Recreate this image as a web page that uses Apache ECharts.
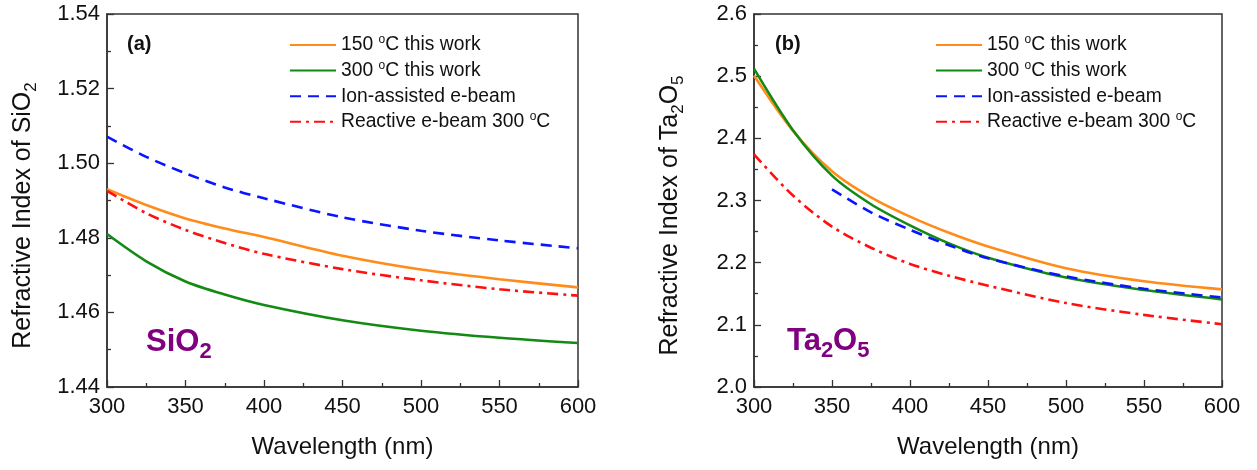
<!DOCTYPE html>
<html>
<head>
<meta charset="utf-8">
<script src="https://cdn.jsdelivr.net/npm/echarts@6/dist/echarts.min.js"></script>
<style>
html,body{margin:0;padding:0;background:#fff;}
#c{width:1257px;height:470px;}
</style>
</head>
<body>
<div id="c"></div>
<script>
// ---- data ----
var seriesNames = ['150 °C this work', '300 °C this work', 'Ion-assisted e-beam', 'Reactive e-beam 300 °C'];

var wlSiO2 = [300, 325, 350, 375, 400, 450, 500, 550, 600];
var sio2_150 = [1.4930, 1.4888, 1.4852, 1.4825, 1.4802, 1.4752, 1.4715, 1.4689, 1.4667];
var sio2_300 = [1.4810, 1.4737, 1.4683, 1.4648, 1.4620, 1.4579, 1.4551, 1.4532, 1.4518];
var sio2_ion = [1.5071, 1.5017, 1.4973, 1.4935, 1.4906, 1.4855, 1.4819, 1.4793, 1.4772];
var sio2_reac = [1.4926, 1.4866, 1.4821, 1.4786, 1.4757, 1.4716, 1.4686, 1.4662, 1.4645];

var wlTa = [300, 325, 350, 375, 400, 425, 450, 500, 550, 600];
var ta_150 = [2.501, 2.412, 2.347, 2.305, 2.274, 2.248, 2.226, 2.191, 2.170, 2.157];
var ta_300 = [2.512, 2.413, 2.340, 2.294, 2.260, 2.231, 2.208, 2.176, 2.156, 2.141];
var ta_ion = [null, null, 2.318, 2.281, 2.253, 2.228, 2.207, 2.178, 2.158, 2.144];
var ta_reac = [2.374, 2.308, 2.258, 2.224, 2.198, 2.179, 2.163, 2.135, 2.116, 2.101];

// ---- chart ----
var FONT = '"Liberation Sans", Arial, sans-serif';
var colors = ['#ff8c1a', '#138a13', '#0a14ff', '#ff1010'];
var dashes = ['solid', 'solid', [11, 7], [11, 5, 3, 5]];

function pairs(xs, ys) {
  var out = [];
  for (var i = 0; i < xs.length; i++) { if (ys[i] != null) out.push([xs[i], ys[i]]); }
  return out;
}

function mkSeries(idx, xs, ys, k) {
  return {
    type: 'line', name: seriesNames[k], xAxisIndex: idx, yAxisIndex: idx,
    data: pairs(xs, ys), smooth: 0.3, symbol: 'none',
    lineStyle: { color: colors[k], width: 2.6, type: dashes[k] },
    itemStyle: { color: colors[k] }, z: 2 + k
  };
}

function xAx(idx) {
  return {
    type: 'value', gridIndex: idx, min: 300, max: 600, interval: 50,
    name: 'Wavelength (nm)', nameLocation: 'middle', nameGap: 48,
    nameTextStyle: { fontFamily: FONT, fontSize: 24, color: '#111' },
    axisLine: { lineStyle: { color: '#333', width: 1.5 } },
    axisTick: { inside: true, length: 7, lineStyle: { color: '#333', width: 1.3 } },
    minorTick: { show: true, splitNumber: 2, length: 4, lineStyle: { color: '#333', width: 1.3 } },
    axisLabel: { fontFamily: FONT, fontSize: 22, color: '#111', margin: 9 },
    splitLine: { show: false }
  };
}

function yAx(idx, mn, mx, itv, dec, nameRich) {
  return {
    type: 'value', gridIndex: idx, min: mn, max: mx, interval: itv,
    name: nameRich, nameLocation: 'middle', nameGap: 84,
    nameTextStyle: {
      fontFamily: FONT, fontSize: 25, color: '#111', lineHeight: 34, verticalAlign: 'middle',
      padding: [0, 30, 0, 0],
      rich: {
        m: { fontFamily: FONT, fontSize: 25, color: '#111', lineHeight: 34, verticalAlign: 'middle' },
        s: { fontFamily: FONT, fontSize: 17, color: '#111', lineHeight: 17, verticalAlign: 'bottom' }
      }
    },
    axisLine: { lineStyle: { color: '#333', width: 1.5 } },
    axisTick: { inside: true, length: 7, lineStyle: { color: '#333', width: 1.3 } },
    minorTick: { show: true, splitNumber: 2, length: 4, lineStyle: { color: '#333', width: 1.3 } },
    axisLabel: { fontFamily: FONT, fontSize: 22, color: '#111', margin: 7,
      formatter: function (v) { return v.toFixed(dec); } },
    splitLine: { show: false }
  };
}

function legendFmt(name) {
  return name.replace('°C', '{sup|o}C');
}

function mkLegend(left) {
  return {
    orient: 'vertical', left: left, top: 34, padding: 0, itemWidth: 46, itemHeight: 10, itemGap: 3.6,
    data: seriesNames, selectedMode: false,
    formatter: legendFmt,
    itemStyle: { opacity: 0 },
    textStyle: {
      fontFamily: FONT, fontSize: 19.3, color: '#111', lineHeight: 22,
      rich: { sup: { fontFamily: FONT, fontSize: 12, color: '#111', lineHeight: 12, verticalAlign: 'top' } }
    }
  };
}

function label(x, y, rich, text) {
  return { type: 'text', left: x, top: y, style: { text: text, rich: rich } };
}

var boldRich = { b: { fontFamily: FONT, fontSize: 20, fontWeight: 'bold', fill: '#111' } };
var chemRich = {
  m: { fontFamily: FONT, fontSize: 31, fontWeight: 'bold', fill: '#800080', lineHeight: 40, verticalAlign: 'middle' },
  s: { fontFamily: FONT, fontSize: 22, fontWeight: 'bold', fill: '#800080', lineHeight: 22, verticalAlign: 'bottom' }
};

var chart = echarts.init(document.getElementById('c'), null, { renderer: 'canvas' });
chart.setOption({
  animation: false,
  backgroundColor: '#fff',
  grid: [
    { left: 107, right: 679, top: 14, bottom: 83, show: true, borderColor: '#333', borderWidth: 1.5, containLabel: false },
    { left: 754, right: 35, top: 14, bottom: 83, show: true, borderColor: '#333', borderWidth: 1.5, containLabel: false }
  ],
  xAxis: [xAx(0), xAx(1)],
  yAxis: [
    yAx(0, 1.44, 1.54, 0.02, 2, '{m|Refractive Index of SiO}{s|2}'),
    yAx(1, 2.0, 2.6, 0.1, 1, '{m|Refractive Index of Ta}{s|2}{m|O}{s|5}')
  ],
  legend: [mkLegend(289), mkLegend(935)],
  series: [
    mkSeries(0, wlSiO2, sio2_150, 0),
    mkSeries(0, wlSiO2, sio2_300, 1),
    mkSeries(0, wlSiO2, sio2_ion, 2),
    mkSeries(0, wlSiO2, sio2_reac, 3),
    mkSeries(1, wlTa, ta_150, 0),
    mkSeries(1, wlTa, ta_300, 1),
    mkSeries(1, wlTa, ta_ion, 2),
    mkSeries(1, wlTa, ta_reac, 3)
  ],
  graphic: [
    label(127, 34, boldRich, '{b|(a)}'),
    label(775, 34, boldRich, '{b|(b)}'),
    label(146, 327, chemRich, '{m|SiO}{s|2}'),
    label(787, 326, chemRich, '{m|Ta}{s|2}{m|O}{s|5}')
  ]
});
</script>
</body>
</html>
